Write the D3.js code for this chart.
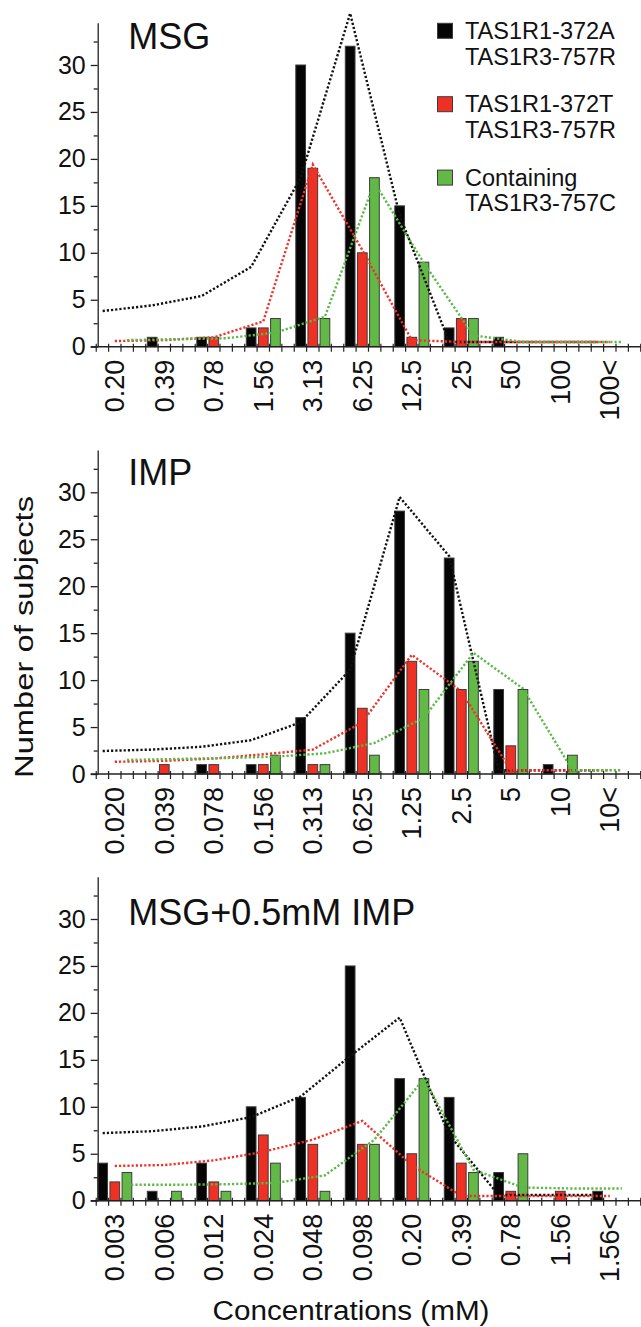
<!DOCTYPE html>
<html>
<head>
<meta charset="utf-8">
<script src="https://cdn.jsdelivr.net/npm/d3@7"></script>
<style>
  body { margin: 0; background: #fff; }
  svg { display: block; font-family: "Liberation Sans", Arial, sans-serif; }
</style>
</head>
<body>
<div id="vis"></div>
<script>
// concentration steps (mM) on the x axis of each panel
const concMSG = ["0.20", "0.39", "0.78", "1.56", "3.13", "6.25", "12.5", "25", "50", "100", "100<"];
const concIMP = ["0.020", "0.039", "0.078", "0.156", "0.313", "0.625", "1.25", "2.5", "5", "10", "10<"];
const concMix = ["0.003", "0.006", "0.012", "0.024", "0.048", "0.098", "0.20", "0.39", "0.78", "1.56", "1.56<"];

// legend / genotype groups
const groups = [["TAS1R1-372A", "TAS1R3-757R"], ["TAS1R1-372T", "TAS1R3-757R"], ["Containing", "TAS1R3-757C"]];

// number of subjects per threshold (bars)
const msgA = [0, 1, 1, 2, 30, 32, 15, 2, 1, 0, 0];
const msgT = [0, 0, 1, 2, 19, 10, 1, 3, 0, 0, 0];
const msgC = [0, 0, 0, 3, 3, 18, 9, 3, 0, 0, 0];

const impA = [0, 0, 1, 1, 6, 15, 28, 23, 9, 1, 0];
const impT = [0, 1, 1, 1, 1, 7, 12, 9, 3, 0, 0];
const impC = [0, 0, 0, 2, 1, 2, 9, 12, 9, 2, 0];

const mixA = [4, 1, 4, 10, 11, 25, 13, 11, 3, 0, 1];
const mixT = [2, 0, 2, 7, 6, 6, 5, 4, 1, 1, 0];
const mixC = [3, 1, 1, 4, 1, 6, 13, 3, 5, 0, 0];

// dotted fit curves
const fitMsgA = [3.8, 4.4, 5.4, 8.5, 18, 35.5, 14, 0.5, 0.5, 0.5, 0.5];
const fitMsgT = [0.6, 0.7, 1.0, 2.7, 19.4, 10.3, 0.7, 0.5, 0.5, 0.5, 0.5];
const fitMsgC = [0.7, 0.8, 0.9, 1.5, 3.2, 17.5, 8.9, 1.2, 0.5, 0.5, 0.5];

const fitImpA = [2.45, 2.6, 2.9, 3.6, 5.5, 11.1, 29.5, 23.2, 0.4, 0.4, 0.4];
const fitImpT = [1.3, 1.4, 1.65, 2.1, 2.6, 5.5, 12.7, 8.8, 0.4, 0.4, 0.4];
const fitImpC = [1.5, 1.6, 1.7, 1.85, 2.2, 3.3, 6.0, 12.9, 9.1, 0.4, 0.4];

const fitMixA = [7.2, 7.4, 7.9, 8.9, 11.1, 15.4, 19.5, 7.0, 0.6, 0.6, 0.6];
const fitMixT = [3.7, 3.8, 4.3, 5.2, 6.5, 8.5, 3.8, 0.5, 0.5, 0.5, 0.5];
const fitMixC = [1.7, 1.7, 1.75, 1.9, 2.7, 6.5, 13.0, 3.3, 1.4, 1.3, 1.3];

const yMajor = [0, 5, 10, 15, 20, 25, 30];
const yMinor = [2.5, 7.5, 12.5, 17.5, 22.5, 27.5, 32.5];

// layout
const FRAME_WIDTH = 641, FRAME_HEIGHT = 1327;
const AXIS_X = 97.7;
const CAT0 = 114.8, CAT_STEP = 49.5;
const PX_PER_SUBJ = 9.39;
const Y_TOP = 34.5;

const fillColors = ["#050505", "#ee3124", "#62b946"];
const dotColors = ["#111111", "#f0302a", "#5cb848"];

const panels = [
  { title: "MSG", cats: concMSG, bars: [msgA, msgT, msgC], fits: [fitMsgA, fitMsgT, fitMsgC], base: 346.7, titleY: 49 },
  { title: "IMP", cats: concIMP, bars: [impA, impT, impC], fits: [fitImpA, fitImpT, fitImpC], base: 774, titleY: 484.5 },
  { title: "MSG+0.5mM IMP", cats: concMix, bars: [mixA, mixT, mixC], fits: [fitMixA, fitMixT, fitMixC], base: 1200.7, titleY: 924.5 }
];

const svg = d3.select("#vis").append("svg")
  .attr("width", FRAME_WIDTH)
  .attr("height", FRAME_HEIGHT);

svg.append("rect").attr("width", FRAME_WIDTH).attr("height", FRAME_HEIGHT).attr("fill", "#fff");

// category index -> pixel, and offset of each genotype inside a group
const xi = d3.scaleLinear().domain([0, 10]).range([CAT0, CAT0 + 10 * CAT_STEP]);
const xSub = d3.scaleBand().domain([0, 1, 2]).range([-17, 17]).paddingInner(0.2);

// x minor ticks sit between the bars
const xTicks = d3.range(45).map(m => -0.375 + 0.25 * m);

panels.forEach(p => {
  const y = d3.scaleLinear().domain([0, Y_TOP]).range([p.base, p.base - Y_TOP * PX_PER_SUBJ]);
  const g = svg.append("g");

  // bars
  p.bars.forEach((vals, s) => {
    g.selectAll(null)
      .data(vals.map((v, i) => ({ i: i, v: v })).filter(d => d.v > 0))
      .enter()
      .append("rect")
        .attr("x", d => xi(d.i) + xSub(s))
        .attr("width", xSub.bandwidth())
        .attr("y", d => y(d.v))
        .attr("height", d => y(0) - y(d.v))
        .attr("fill", fillColors[s])
        .attr("stroke", "#3c3c3c")
        .attr("stroke-width", 1);
  });

  // dotted fit lines
  p.fits.forEach((vals, s) => {
    const line = d3.line()
      .x((d, i) => xi(i) + xSub(s) + xSub.bandwidth() / 2)
      .y(d => y(d));
    g.append("path")
      .datum(vals)
      .attr("d", line)
      .attr("fill", "none")
      .attr("stroke", dotColors[s])
      .attr("stroke-width", 2.4)
      .attr("stroke-dasharray", "2.2,2");
  });

  // y axis, major + minor ticks
  const yAxis = g.append("g")
    .attr("transform", `translate(${AXIS_X},0)`)
    .call(d3.axisLeft(y).tickValues(yMajor).tickSize(7).tickPadding(5).tickSizeOuter(0));
  yAxis.attr("font-size", null).attr("font-family", null);
  yAxis.selectAll("text").attr("font-size", 25).attr("fill", "#111");
  yAxis.selectAll("line, path").attr("stroke", "#222").attr("stroke-width", 1.3);

  const yMinorAxis = g.append("g")
    .attr("transform", `translate(${AXIS_X},0)`)
    .call(d3.axisLeft(y).tickValues(yMinor).tickSize(4).tickFormat("").tickSizeOuter(0));
  yMinorAxis.select(".domain").remove();
  yMinorAxis.selectAll("line").attr("stroke", "#222").attr("stroke-width", 1.3);

  // x axis line + crossing ticks
  g.append("line")
    .attr("x1", AXIS_X - 7).attr("x2", FRAME_WIDTH)
    .attr("y1", y(0)).attr("y2", y(0))
    .attr("stroke", "#222").attr("stroke-width", 1.4);
  g.selectAll(null)
    .data(xTicks)
    .enter()
    .append("line")
      .attr("x1", d => xi(d)).attr("x2", d => xi(d))
      .attr("y1", y(0) - 3).attr("y2", y(0) + 5)
      .attr("stroke", "#222").attr("stroke-width", 1.2);

  // x tick labels, rotated
  g.selectAll(null)
    .data(p.cats)
    .enter()
    .append("text")
      .attr("transform", (d, i) => `translate(${xi(i)},${y(0) + 13}) rotate(-90)`)
      .attr("text-anchor", "end")
      .attr("dy", "0.35em")
      .attr("font-size", 27)
      .attr("fill", "#111")
      .text(d => d);

  // panel title
  g.append("text")
    .attr("x", 128.3).attr("y", p.titleY)
    .attr("font-size", 36)
    .attr("fill", "#111")
    .text(p.title);
});

// legend (top panel)
const legend = svg.append("g");
groups.forEach((lines, s) => {
  const top = 23.3 + s * 73.4;
  legend.append("rect")
    .attr("x", 437.5).attr("y", top)
    .attr("width", 15).attr("height", 15)
    .attr("fill", fillColors[s])
    .attr("stroke", "#3c3c3c").attr("stroke-width", 1);
  lines.forEach((t, k) => {
    legend.append("text")
      .attr("x", 465).attr("y", top + 15.5 + k * 25.8)
      .attr("font-size", 23.5)
      .attr("fill", "#111")
      .text(t);
  });
});

// axis titles
svg.append("text")
  .attr("transform", "translate(33,637) rotate(-90)")
  .attr("text-anchor", "middle")
  .attr("font-size", 26)
  .attr("fill", "#111")
  .attr("textLength", 282)
  .attr("lengthAdjust", "spacingAndGlyphs")
  .text("Number of subjects");

svg.append("text")
  .attr("x", 351).attr("y", 1320)
  .attr("text-anchor", "middle")
  .attr("font-size", 27)
  .attr("fill", "#111")
  .attr("textLength", 277)
  .attr("lengthAdjust", "spacingAndGlyphs")
  .text("Concentrations (mM)");
</script>
</body>
</html>
